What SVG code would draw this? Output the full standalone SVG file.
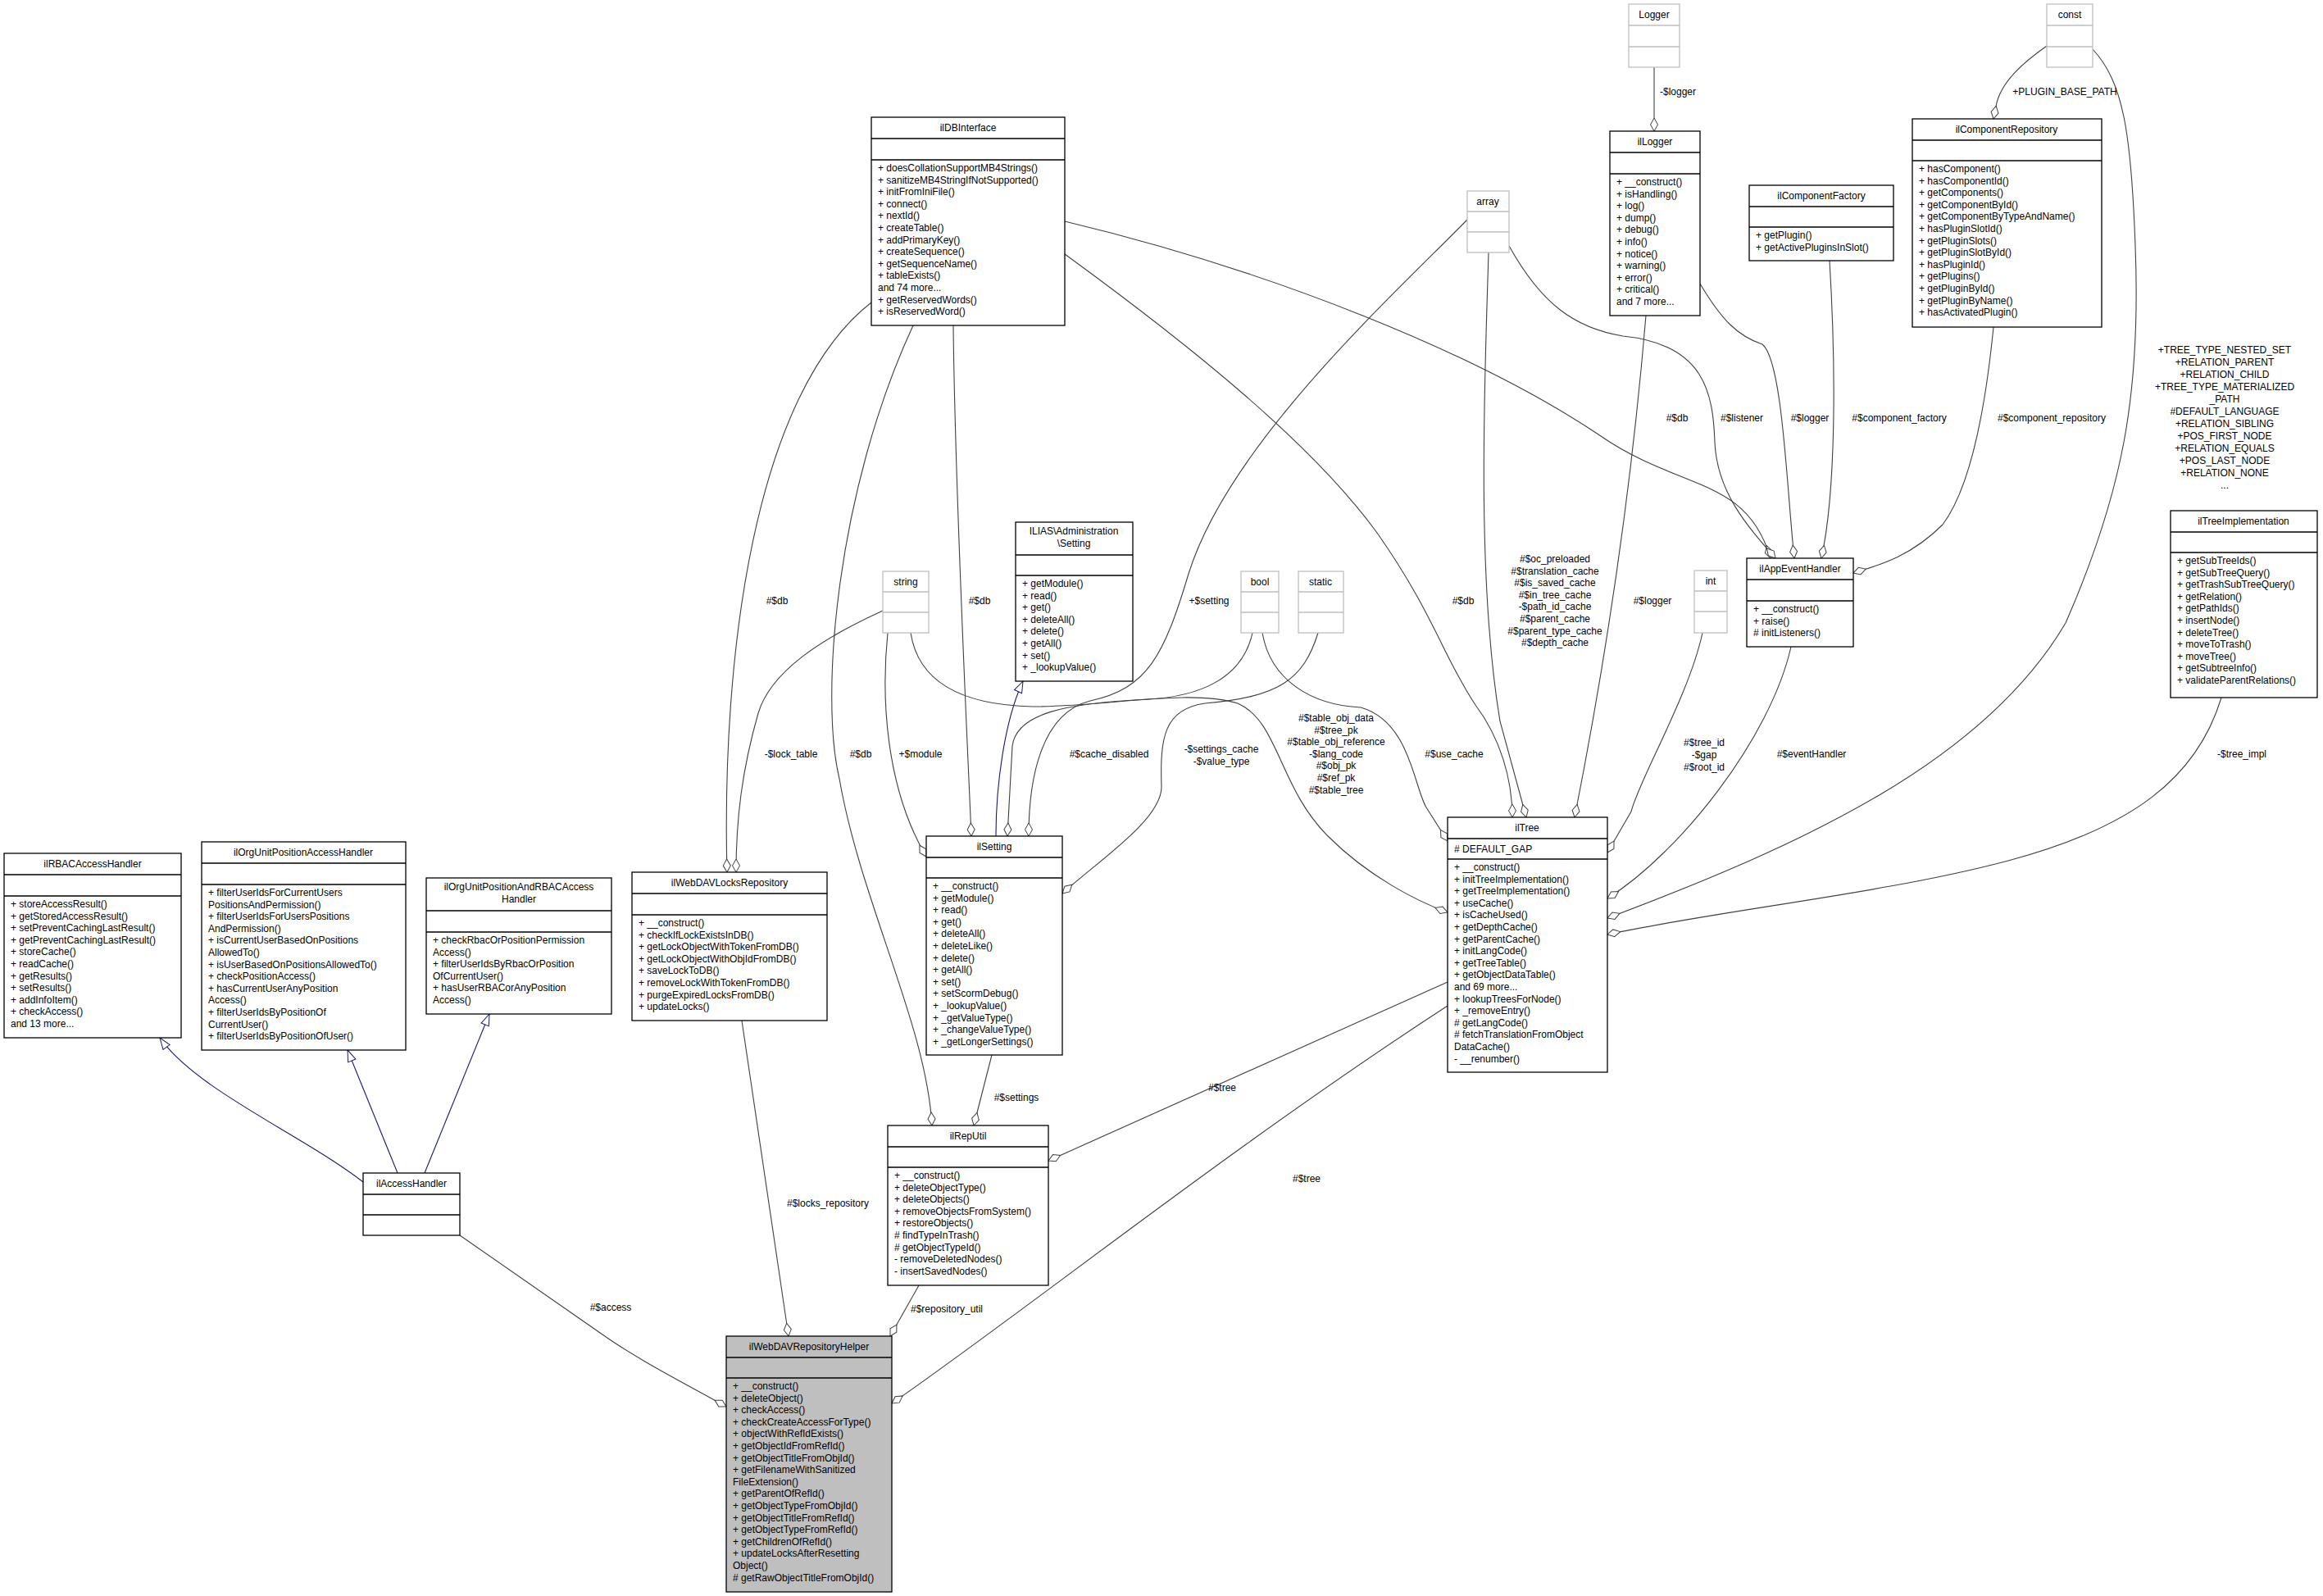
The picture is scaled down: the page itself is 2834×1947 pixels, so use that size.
<svg xmlns="http://www.w3.org/2000/svg" width="2834" height="1947" viewBox="0 0 2834 1947">
<style>
text{font-family:"Liberation Sans",Arial,sans-serif;font-size:12px;fill:#000}
.t{text-anchor:middle}
.b{fill:#fff;stroke:#000;stroke-width:1.3}
.g{fill:#fff;stroke:#bfbfbf;stroke-width:1.3}
.h{fill:#bfbfbf;stroke:#000;stroke-width:1.3}
.e path{fill:none;stroke:#404040;stroke-width:1.1;marker-end:url(#dia)}
.e path.i{stroke:#191970;marker-end:url(#tri)}
.l text{text-anchor:middle}
</style>
<defs>
<marker id="dia" markerUnits="userSpaceOnUse" markerWidth="20" markerHeight="12" refX="17" refY="6" orient="auto" viewBox="0 0 20 12"><path d="M17,6 L9,1.5 L1,6 L9,10.5 Z" fill="#fff" stroke="#404040" stroke-width="1"/></marker>
<marker id="tri" markerUnits="userSpaceOnUse" markerWidth="18" markerHeight="12" refX="16" refY="6" orient="auto" viewBox="0 0 18 12"><path d="M16,6 L2,1 L2,11 Z" fill="#fff" stroke="#191970" stroke-width="1"/></marker>
</defs>
<rect width="2834" height="1947" fill="#fff"/>

<g class="e" id="edges">
<path class="i" d="M443,1442 C 370,1385 240,1330 195,1266"/>
<path class="i" d="M485,1431 L424,1281"/>
<path class="i" d="M518,1431 L597,1237"/>
<path class="i" d="M1215,1020 C 1215,960 1225,880 1248,831"/>
<path d="M561,1507 L735,1628 C 780,1660 840,1690 886,1716"/>
<path d="M905,1245 L962,1630"/>
<path d="M1121,1568 L1086,1630"/>
<path d="M1766,1198 L1279,1416"/>
<path d="M1766,1227 C 1500,1400 1250,1600 1088,1712"/>
<path d="M1210,1287 L1188,1373"/>
<path d="M1114,397 C 1020,600 1000,850 1024,950 C 1050,1100 1130,1250 1137,1373"/>
<path d="M1063,369 C 920,480 880,800 887,1064"/>
<path d="M1077,745 C 1000,780 940,820 925,870 C 905,940 898,1000 898,1064"/>
<path d="M1163,397 C 1165,600 1180,900 1185,1020"/>
<path d="M1083,772 C 1075,850 1080,960 1130,1045"/>
<path d="M1790,268 C 1700,360 1500,540 1450,700 C 1420,800 1400,840 1330,855 C 1270,870 1255,950 1255,1020"/>
<path d="M1528,772 C 1515,830 1460,850 1400,853 C 1300,858 1240,870 1235,910 L1229,1020"/>
<path d="M1608,772 C 1590,830 1560,850 1470,858 C 1420,865 1415,900 1417,960 C 1417,1000 1340,1050 1296,1090"/>
<path d="M1111,772 C 1120,830 1170,860 1260,862 C 1350,862 1450,840 1510,858 C 1560,880 1560,960 1620,1020 C 1670,1070 1730,1100 1766,1113"/>
<path d="M1540,772 C 1550,830 1600,860 1660,863 C 1720,880 1725,960 1740,985 L1766,1026"/>
<path d="M1299,310 C 1450,420 1600,540 1680,650 C 1750,750 1760,800 1800,860 C 1830,900 1845,950 1845,997"/>
<path d="M1816,308 C 1812,450 1800,700 1830,880 L1862,997"/>
<path d="M2008,385 C 1990,600 1960,800 1921,997"/>
<path d="M2077,772 C 2060,850 2000,950 1990,990 L1961,1040"/>
<path d="M2185,789 C 2160,900 2050,1040 1961,1096"/>
<path d="M2553,60 C 2590,100 2600,160 2605,300 C 2612,480 2590,600 2520,760 C 2420,930 2200,1030 1961,1120"/>
<path d="M2710,851 C 2680,950 2600,1010 2450,1050 C 2300,1090 2100,1110 1961,1140"/>
<path d="M1299,270 C 1550,330 1800,430 1950,530 C 2050,600 2130,580 2160,681"/>
<path d="M1841,300 C 1880,370 1920,400 1980,410 C 2080,420 2090,480 2092,540 C 2095,600 2130,640 2166,681"/>
<path d="M2074,346 C 2100,390 2120,410 2150,420 C 2175,440 2180,600 2189,681"/>
<path d="M2232,318 C 2240,450 2240,600 2222,681"/>
<path d="M2432,399 C 2420,520 2400,600 2370,640 C 2330,680 2290,690 2261,699"/>
<path d="M2018,82 L2018,160"/>
<path d="M2497,56 C 2470,75 2440,100 2435,130 L2432,145"/>
</g>

<g class="l" id="labels">
<text x="745" y="1599">#$access</text>
<text x="1010" y="1472">#$locks_repository</text>
<text x="1155" y="1601">#$repository_util</text>
<text x="1491" y="1331">#$tree</text>
<text x="1594" y="1442">#$tree</text>
<text x="1240" y="1343">#$settings</text>
<text x="948" y="737">#$db</text>
<text x="965" y="924">-$lock_table</text>
<text x="1050" y="924">#$db</text>
<text x="1123" y="924">+$module</text>
<text x="1195" y="737">#$db</text>
<text x="1475" y="737">+$setting</text>
<text x="1353" y="924">#$cache_disabled</text>
<text x="1490" y="918">-$settings_cache</text>
<text x="1490" y="933">-$value_type</text>
<text x="1630" y="880"><tspan x="1630" dy="0">#$table_obj_data</tspan><tspan x="1630" dy="14.6">#$tree_pk</tspan><tspan x="1630" dy="14.6">#$table_obj_reference</tspan><tspan x="1630" dy="14.6">-$lang_code</tspan><tspan x="1630" dy="14.6">#$obj_pk</tspan><tspan x="1630" dy="14.6">#$ref_pk</tspan><tspan x="1630" dy="14.6">#$table_tree</tspan></text>
<text x="1774" y="924">#$use_cache</text>
<text x="1785" y="737">#$db</text>
<text x="1897" y="686"><tspan x="1897" dy="0">#$oc_preloaded</tspan><tspan x="1897" dy="14.6">#$translation_cache</tspan><tspan x="1897" dy="14.6">#$is_saved_cache</tspan><tspan x="1897" dy="14.6">#$in_tree_cache</tspan><tspan x="1897" dy="14.6">-$path_id_cache</tspan><tspan x="1897" dy="14.6">#$parent_cache</tspan><tspan x="1897" dy="14.6">#$parent_type_cache</tspan><tspan x="1897" dy="14.6">#$depth_cache</tspan></text>
<text x="2016" y="737">#$logger</text>
<text x="2079" y="910"><tspan x="2079" dy="0">#$tree_id</tspan><tspan x="2079" dy="15">-$gap</tspan><tspan x="2079" dy="15">#$root_id</tspan></text>
<text x="2210" y="924">#$eventHandler</text>
<text x="2735" y="924">-$tree_impl</text>
<text x="2046" y="514">#$db</text>
<text x="2125" y="514">#$listener</text>
<text x="2208" y="514">#$logger</text>
<text x="2317" y="514">#$component_factory</text>
<text x="2503" y="514">#$component_repository</text>
<text x="2047" y="116">-$logger</text>
<text x="2519" y="116">+PLUGIN_BASE_PATH</text>
<text x="2714" y="431"><tspan x="2714" dy="0">+TREE_TYPE_NESTED_SET</tspan><tspan x="2714" dy="15">+RELATION_PARENT</tspan><tspan x="2714" dy="15">+RELATION_CHILD</tspan><tspan x="2714" dy="15">+TREE_TYPE_MATERIALIZED</tspan><tspan x="2714" dy="15">_PATH</tspan><tspan x="2714" dy="15">#DEFAULT_LANGUAGE</tspan><tspan x="2714" dy="15">+RELATION_SIBLING</tspan><tspan x="2714" dy="15">+POS_FIRST_NODE</tspan><tspan x="2714" dy="15">+RELATION_EQUALS</tspan><tspan x="2714" dy="15">+POS_LAST_NODE</tspan><tspan x="2714" dy="15">+RELATION_NONE</tspan><tspan x="2714" dy="15">...</tspan></text>
</g>

<g id="ilRBACAccessHandler">
<rect class="b" x="5" y="1041" width="216" height="225"/><path d="M5,1067H221M5,1093H221" stroke="#000" stroke-width="1.3"/>
<text class="t" x="113" y="1058">ilRBACAccessHandler</text>
<text x="13" y="1107"><tspan x="13" dy="0">+ storeAccessResult()</tspan><tspan x="13" dy="14.6">+ getStoredAccessResult()</tspan><tspan x="13" dy="14.6">+ setPreventCachingLastResult()</tspan><tspan x="13" dy="14.6">+ getPreventCachingLastResult()</tspan><tspan x="13" dy="14.6">+ storeCache()</tspan><tspan x="13" dy="14.6">+ readCache()</tspan><tspan x="13" dy="14.6">+ getResults()</tspan><tspan x="13" dy="14.6">+ setResults()</tspan><tspan x="13" dy="14.6">+ addInfoItem()</tspan><tspan x="13" dy="14.6">+ checkAccess()</tspan><tspan x="13" dy="14.6">and 13 more...</tspan></text>
</g>

<g id="ilOrgUnitPositionAccessHandler">
<rect class="b" x="246" y="1027" width="249" height="254"/><path d="M246,1053H495M246,1079H495" stroke="#000" stroke-width="1.3"/>
<text class="t" x="370" y="1044">ilOrgUnitPositionAccessHandler</text>
<text x="254" y="1093"><tspan x="254" dy="0">+ filterUserIdsForCurrentUsers</tspan><tspan x="254" dy="14.6">PositionsAndPermission()</tspan><tspan x="254" dy="14.6">+ filterUserIdsForUsersPositions</tspan><tspan x="254" dy="14.6">AndPermission()</tspan><tspan x="254" dy="14.6">+ isCurrentUserBasedOnPositions</tspan><tspan x="254" dy="14.6">AllowedTo()</tspan><tspan x="254" dy="14.6">+ isUserBasedOnPositionsAllowedTo()</tspan><tspan x="254" dy="14.6">+ checkPositionAccess()</tspan><tspan x="254" dy="14.6">+ hasCurrentUserAnyPosition</tspan><tspan x="254" dy="14.6">Access()</tspan><tspan x="254" dy="14.6">+ filterUserIdsByPositionOf</tspan><tspan x="254" dy="14.6">CurrentUser()</tspan><tspan x="254" dy="14.6">+ filterUserIdsByPositionOfUser()</tspan></text>
</g>

<g id="ilOrgUnitPositionAndRBACAccessHandler">
<rect class="b" x="520" y="1071" width="226" height="166"/><path d="M520,1111H746M520,1137H746" stroke="#000" stroke-width="1.3"/>
<text class="t" x="633" y="1086">ilOrgUnitPositionAndRBACAccess</text><text class="t" x="633" y="1101">Handler</text>
<text x="528" y="1151"><tspan x="528" dy="0">+ checkRbacOrPositionPermission</tspan><tspan x="528" dy="14.6">Access()</tspan><tspan x="528" dy="14.6">+ filterUserIdsByRbacOrPosition</tspan><tspan x="528" dy="14.6">OfCurrentUser()</tspan><tspan x="528" dy="14.6">+ hasUserRBACorAnyPosition</tspan><tspan x="528" dy="14.6">Access()</tspan></text>
</g>

<g id="ilWebDAVLocksRepository">
<rect class="b" x="771" y="1064" width="238" height="181"/><path d="M771,1090H1009M771,1116H1009" stroke="#000" stroke-width="1.3"/>
<text class="t" x="890" y="1081">ilWebDAVLocksRepository</text>
<text x="779" y="1130"><tspan x="779" dy="0">+ __construct()</tspan><tspan x="779" dy="14.6">+ checkIfLockExistsInDB()</tspan><tspan x="779" dy="14.6">+ getLockObjectWithTokenFromDB()</tspan><tspan x="779" dy="14.6">+ getLockObjectWithObjIdFromDB()</tspan><tspan x="779" dy="14.6">+ saveLockToDB()</tspan><tspan x="779" dy="14.6">+ removeLockWithTokenFromDB()</tspan><tspan x="779" dy="14.6">+ purgeExpiredLocksFromDB()</tspan><tspan x="779" dy="14.6">+ updateLocks()</tspan></text>
</g>

<g id="ilAccessHandler">
<rect class="b" x="443" y="1431" width="118" height="76"/><path d="M443,1457H561M443,1482H561" stroke="#000" stroke-width="1.3"/>
<text class="t" x="502" y="1448">ilAccessHandler</text>
</g>

<g id="ilWebDAVRepositoryHelper">
<rect class="h" x="886" y="1630" width="202" height="312"/><path d="M886,1656H1088M886,1681H1088" stroke="#000" stroke-width="1.3"/>
<text class="t" x="987" y="1647">ilWebDAVRepositoryHelper</text>
<text x="894" y="1695"><tspan x="894" dy="0">+ __construct()</tspan><tspan x="894" dy="14.6">+ deleteObject()</tspan><tspan x="894" dy="14.6">+ checkAccess()</tspan><tspan x="894" dy="14.6">+ checkCreateAccessForType()</tspan><tspan x="894" dy="14.6">+ objectWithRefIdExists()</tspan><tspan x="894" dy="14.6">+ getObjectIdFromRefId()</tspan><tspan x="894" dy="14.6">+ getObjectTitleFromObjId()</tspan><tspan x="894" dy="14.6">+ getFilenameWithSanitized</tspan><tspan x="894" dy="14.6">FileExtension()</tspan><tspan x="894" dy="14.6">+ getParentOfRefId()</tspan><tspan x="894" dy="14.6">+ getObjectTypeFromObjId()</tspan><tspan x="894" dy="14.6">+ getObjectTitleFromRefId()</tspan><tspan x="894" dy="14.6">+ getObjectTypeFromRefId()</tspan><tspan x="894" dy="14.6">+ getChildrenOfRefId()</tspan><tspan x="894" dy="14.6">+ updateLocksAfterResetting</tspan><tspan x="894" dy="14.6">Object()</tspan><tspan x="894" dy="14.6"># getRawObjectTitleFromObjId()</tspan></text>
</g>

<g id="ilRepUtil">
<rect class="b" x="1083" y="1373" width="196" height="195"/><path d="M1083,1399H1279M1083,1424H1279" stroke="#000" stroke-width="1.3"/>
<text class="t" x="1181" y="1390">ilRepUtil</text>
<text x="1091" y="1438"><tspan x="1091" dy="0">+ __construct()</tspan><tspan x="1091" dy="14.6">+ deleteObjectType()</tspan><tspan x="1091" dy="14.6">+ deleteObjects()</tspan><tspan x="1091" dy="14.6">+ removeObjectsFromSystem()</tspan><tspan x="1091" dy="14.6">+ restoreObjects()</tspan><tspan x="1091" dy="14.6"># findTypeInTrash()</tspan><tspan x="1091" dy="14.6"># getObjectTypeId()</tspan><tspan x="1091" dy="14.6">- removeDeletedNodes()</tspan><tspan x="1091" dy="14.6">- insertSavedNodes()</tspan></text>
</g>

<g id="ilDBInterface">
<rect class="b" x="1063" y="143" width="236" height="254"/><path d="M1063,169H1299M1063,195H1299" stroke="#000" stroke-width="1.3"/>
<text class="t" x="1181" y="160">ilDBInterface</text>
<text x="1071" y="209"><tspan x="1071" dy="0">+ doesCollationSupportMB4Strings()</tspan><tspan x="1071" dy="14.6">+ sanitizeMB4StringIfNotSupported()</tspan><tspan x="1071" dy="14.6">+ initFromIniFile()</tspan><tspan x="1071" dy="14.6">+ connect()</tspan><tspan x="1071" dy="14.6">+ nextId()</tspan><tspan x="1071" dy="14.6">+ createTable()</tspan><tspan x="1071" dy="14.6">+ addPrimaryKey()</tspan><tspan x="1071" dy="14.6">+ createSequence()</tspan><tspan x="1071" dy="14.6">+ getSequenceName()</tspan><tspan x="1071" dy="14.6">+ tableExists()</tspan><tspan x="1071" dy="14.6">and 74 more...</tspan><tspan x="1071" dy="14.6">+ getReservedWords()</tspan><tspan x="1071" dy="14.6">+ isReservedWord()</tspan></text>
</g>

<g id="ilSetting">
<rect class="b" x="1130" y="1020" width="166" height="267"/><path d="M1130,1046H1296M1130,1071H1296" stroke="#000" stroke-width="1.3"/>
<text class="t" x="1213" y="1037">ilSetting</text>
<text x="1138" y="1085"><tspan x="1138" dy="0">+ __construct()</tspan><tspan x="1138" dy="14.6">+ getModule()</tspan><tspan x="1138" dy="14.6">+ read()</tspan><tspan x="1138" dy="14.6">+ get()</tspan><tspan x="1138" dy="14.6">+ deleteAll()</tspan><tspan x="1138" dy="14.6">+ deleteLike()</tspan><tspan x="1138" dy="14.6">+ delete()</tspan><tspan x="1138" dy="14.6">+ getAll()</tspan><tspan x="1138" dy="14.6">+ set()</tspan><tspan x="1138" dy="14.6">+ setScormDebug()</tspan><tspan x="1138" dy="14.6">+ _lookupValue()</tspan><tspan x="1138" dy="14.6">+ _getValueType()</tspan><tspan x="1138" dy="14.6">+ _changeValueType()</tspan><tspan x="1138" dy="14.6">+ _getLongerSettings()</tspan></text>
</g>

<g id="ILIASAdministrationSetting">
<rect class="b" x="1239" y="637" width="143" height="194"/><path d="M1239,677H1382M1239,702H1382" stroke="#000" stroke-width="1.3"/>
<text class="t" x="1310" y="652">ILIAS\Administration</text><text class="t" x="1310" y="667">\Setting</text>
<text x="1247" y="716"><tspan x="1247" dy="0">+ getModule()</tspan><tspan x="1247" dy="14.6">+ read()</tspan><tspan x="1247" dy="14.6">+ get()</tspan><tspan x="1247" dy="14.6">+ deleteAll()</tspan><tspan x="1247" dy="14.6">+ delete()</tspan><tspan x="1247" dy="14.6">+ getAll()</tspan><tspan x="1247" dy="14.6">+ set()</tspan><tspan x="1247" dy="14.6">+ _lookupValue()</tspan></text>
</g>

<g id="string"><rect class="g" x="1077" y="697" width="56" height="75"/><path d="M1077,722H1133M1077,747H1133" stroke="#bfbfbf" stroke-width="1.3"/><text class="t" x="1105" y="714">string</text></g>
<g id="bool"><rect class="g" x="1514" y="697" width="46" height="75"/><path d="M1514,722H1560M1514,747H1560" stroke="#bfbfbf" stroke-width="1.3"/><text class="t" x="1537" y="714">bool</text></g>
<g id="static"><rect class="g" x="1584" y="697" width="55" height="75"/><path d="M1584,722H1639M1584,747H1639" stroke="#bfbfbf" stroke-width="1.3"/><text class="t" x="1611" y="714">static</text></g>
<g id="array"><rect class="g" x="1790" y="233" width="51" height="75"/><path d="M1790,258H1841M1790,283H1841" stroke="#bfbfbf" stroke-width="1.3"/><text class="t" x="1815" y="250">array</text></g>
<g id="int"><rect class="g" x="2067" y="696" width="40" height="76"/><path d="M2067,721H2107M2067,746H2107" stroke="#bfbfbf" stroke-width="1.3"/><text class="t" x="2087" y="713">int</text></g>
<g id="Logger"><rect class="g" x="1987" y="5" width="62" height="77"/><path d="M1987,31H2049M1987,57H2049" stroke="#bfbfbf" stroke-width="1.3"/><text class="t" x="2018" y="22">Logger</text></g>
<g id="const"><rect class="g" x="2497" y="5" width="56" height="77"/><path d="M2497,31H2553M2497,57H2553" stroke="#bfbfbf" stroke-width="1.3"/><text class="t" x="2525" y="22">const</text></g>

<g id="ilLogger">
<rect class="b" x="1964" y="160" width="110" height="225"/><path d="M1964,186H2074M1964,212H2074" stroke="#000" stroke-width="1.3"/>
<text class="t" x="2019" y="177">ilLogger</text>
<text x="1972" y="226"><tspan x="1972" dy="0">+ __construct()</tspan><tspan x="1972" dy="14.6">+ isHandling()</tspan><tspan x="1972" dy="14.6">+ log()</tspan><tspan x="1972" dy="14.6">+ dump()</tspan><tspan x="1972" dy="14.6">+ debug()</tspan><tspan x="1972" dy="14.6">+ info()</tspan><tspan x="1972" dy="14.6">+ notice()</tspan><tspan x="1972" dy="14.6">+ warning()</tspan><tspan x="1972" dy="14.6">+ error()</tspan><tspan x="1972" dy="14.6">+ critical()</tspan><tspan x="1972" dy="14.6">and 7 more...</tspan></text>
</g>

<g id="ilComponentFactory">
<rect class="b" x="2134" y="226" width="176" height="92"/><path d="M2134,252H2310M2134,277H2310" stroke="#000" stroke-width="1.3"/>
<text class="t" x="2222" y="243">ilComponentFactory</text>
<text x="2142" y="291"><tspan x="2142" dy="0">+ getPlugin()</tspan><tspan x="2142" dy="14.6">+ getActivePluginsInSlot()</tspan></text>
</g>

<g id="ilComponentRepository">
<rect class="b" x="2333" y="145" width="231" height="254"/><path d="M2333,171H2564M2333,196H2564" stroke="#000" stroke-width="1.3"/>
<text class="t" x="2448" y="162">ilComponentRepository</text>
<text x="2341" y="210"><tspan x="2341" dy="0">+ hasComponent()</tspan><tspan x="2341" dy="14.6">+ hasComponentId()</tspan><tspan x="2341" dy="14.6">+ getComponents()</tspan><tspan x="2341" dy="14.6">+ getComponentById()</tspan><tspan x="2341" dy="14.6">+ getComponentByTypeAndName()</tspan><tspan x="2341" dy="14.6">+ hasPluginSlotId()</tspan><tspan x="2341" dy="14.6">+ getPluginSlots()</tspan><tspan x="2341" dy="14.6">+ getPluginSlotById()</tspan><tspan x="2341" dy="14.6">+ hasPluginId()</tspan><tspan x="2341" dy="14.6">+ getPlugins()</tspan><tspan x="2341" dy="14.6">+ getPluginById()</tspan><tspan x="2341" dy="14.6">+ getPluginByName()</tspan><tspan x="2341" dy="14.6">+ hasActivatedPlugin()</tspan></text>
</g>

<g id="ilAppEventHandler">
<rect class="b" x="2131" y="681" width="130" height="108"/><path d="M2131,707H2261M2131,733H2261" stroke="#000" stroke-width="1.3"/>
<text class="t" x="2196" y="698">ilAppEventHandler</text>
<text x="2139" y="747"><tspan x="2139" dy="0">+ __construct()</tspan><tspan x="2139" dy="14.6">+ raise()</tspan><tspan x="2139" dy="14.6"># initListeners()</tspan></text>
</g>

<g id="ilTreeImplementation">
<rect class="b" x="2648" y="623" width="179" height="228"/><path d="M2648,649H2827M2648,674H2827" stroke="#000" stroke-width="1.3"/>
<text class="t" x="2737" y="640">ilTreeImplementation</text>
<text x="2656" y="688"><tspan x="2656" dy="0">+ getSubTreeIds()</tspan><tspan x="2656" dy="14.6">+ getSubTreeQuery()</tspan><tspan x="2656" dy="14.6">+ getTrashSubTreeQuery()</tspan><tspan x="2656" dy="14.6">+ getRelation()</tspan><tspan x="2656" dy="14.6">+ getPathIds()</tspan><tspan x="2656" dy="14.6">+ insertNode()</tspan><tspan x="2656" dy="14.6">+ deleteTree()</tspan><tspan x="2656" dy="14.6">+ moveToTrash()</tspan><tspan x="2656" dy="14.6">+ moveTree()</tspan><tspan x="2656" dy="14.6">+ getSubtreeInfo()</tspan><tspan x="2656" dy="14.6">+ validateParentRelations()</tspan></text>
</g>

<g id="ilTree">
<rect class="b" x="1766" y="997" width="195" height="311"/><path d="M1766,1023H1961M1766,1048H1961" stroke="#000" stroke-width="1.3"/>
<text class="t" x="1863" y="1014">ilTree</text>
<text x="1774" y="1040"># DEFAULT_GAP</text>
<text x="1774" y="1062"><tspan x="1774" dy="0">+ __construct()</tspan><tspan x="1774" dy="14.6">+ initTreeImplementation()</tspan><tspan x="1774" dy="14.6">+ getTreeImplementation()</tspan><tspan x="1774" dy="14.6">+ useCache()</tspan><tspan x="1774" dy="14.6">+ isCacheUsed()</tspan><tspan x="1774" dy="14.6">+ getDepthCache()</tspan><tspan x="1774" dy="14.6">+ getParentCache()</tspan><tspan x="1774" dy="14.6">+ initLangCode()</tspan><tspan x="1774" dy="14.6">+ getTreeTable()</tspan><tspan x="1774" dy="14.6">+ getObjectDataTable()</tspan><tspan x="1774" dy="14.6">and 69 more...</tspan><tspan x="1774" dy="14.6">+ lookupTreesForNode()</tspan><tspan x="1774" dy="14.6">+ _removeEntry()</tspan><tspan x="1774" dy="14.6"># getLangCode()</tspan><tspan x="1774" dy="14.6"># fetchTranslationFromObject</tspan><tspan x="1774" dy="14.6">DataCache()</tspan><tspan x="1774" dy="14.6">- __renumber()</tspan></text>
</g>
</svg>
